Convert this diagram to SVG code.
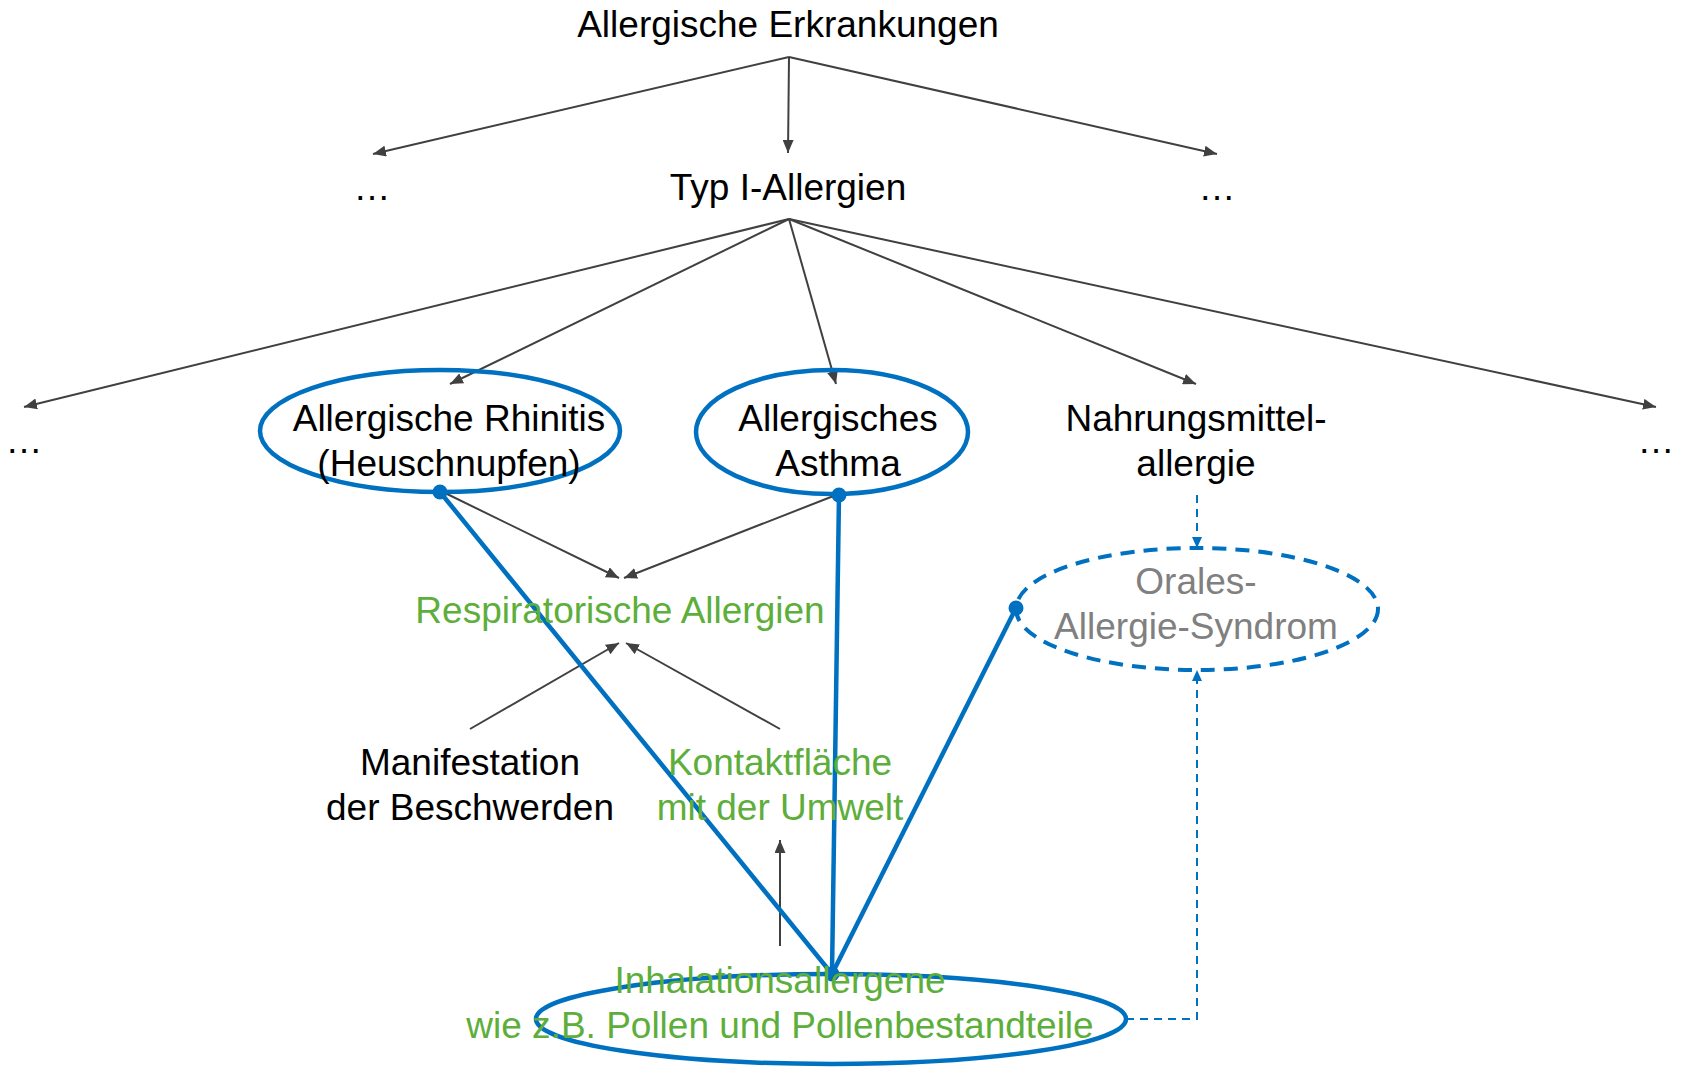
<svg xmlns="http://www.w3.org/2000/svg" width="1681" height="1067" viewBox="0 0 1681 1067">
<style>
text{font-family:"Liberation Sans",Arial,sans-serif;font-size:37px;text-anchor:middle;fill:#000}
.g{fill:#5DAE3A}
.gr{fill:#808080}
.c{stroke:#404040;stroke-width:2;fill:none;marker-end:url(#ah)}
.b{stroke:#0070C0;stroke-width:4.5;fill:none}
.bd{stroke:#0070C0;stroke-width:2;fill:none;stroke-dasharray:8 6}
.dot{fill:#0070C0}
</style>
<defs>
<marker id="ah" viewBox="0 0 13 11" refX="13" refY="5.5" markerWidth="13" markerHeight="11" markerUnits="userSpaceOnUse" orient="auto"><path d="M0,0 L13,5.5 L0,11 z" fill="#404040"/></marker>
<marker id="bh" viewBox="0 0 11 10" refX="11" refY="5" markerWidth="11" markerHeight="10" markerUnits="userSpaceOnUse" orient="auto"><path d="M0,0 L11,5 L0,10 z" fill="#0070C0"/></marker>
</defs>
<g id="connectors">
<line class="c" x1="789" y1="57" x2="373" y2="154"/>
<line class="c" x1="789" y1="57" x2="788" y2="153"/>
<line class="c" x1="789" y1="57" x2="1217" y2="154"/>
<line class="c" x1="789" y1="219" x2="24" y2="407"/>
<line class="c" x1="789" y1="219" x2="450" y2="384"/>
<line class="c" x1="789" y1="219" x2="836" y2="384"/>
<line class="c" x1="789" y1="219" x2="1196" y2="384"/>
<line class="c" x1="789" y1="219" x2="1656" y2="407"/>
<line class="c" x1="443" y1="492" x2="619" y2="578"/>
<line class="c" x1="836" y1="495" x2="624" y2="578"/>
<line class="c" x1="470" y1="729" x2="619" y2="643"/>
<line class="c" x1="780" y1="729" x2="626" y2="643"/>
<line class="c" x1="780" y1="946" x2="780" y2="840"/>
<line class="bd" x1="1197" y1="495" x2="1197" y2="548" marker-end="url(#bh)"/>
<polyline class="bd" points="1126,1019 1197,1019 1197,670" marker-end="url(#bh)"/>
<line class="b" x1="440" y1="492" x2="832" y2="974"/>
<line class="b" x1="839" y1="495" x2="832" y2="974"/>
<line class="b" x1="1016" y1="608" x2="832" y2="974"/>
<circle class="dot" cx="440" cy="492" r="7.5"/>
<circle class="dot" cx="839" cy="495" r="7.5"/>
<circle class="dot" cx="1016" cy="608" r="7.5"/>
<circle class="dot" cx="832" cy="974" r="7.5"/>
</g>
<g id="n-root"><text x="788" y="37">Allergische Erkrankungen</text></g>
<g id="n-dots1"><text x="372" y="200">…</text></g>
<g id="n-typ1"><text x="788" y="200">Typ I-Allergien</text></g>
<g id="n-dots2"><text x="1217" y="200">…</text></g>
<g id="n-dots3"><text x="24" y="453">…</text></g>
<g id="n-rhinitis">
<ellipse class="b" cx="440" cy="431" rx="180" ry="61"/>
<text x="449" y="431">Allergische Rhinitis</text>
<text x="449" y="476">(Heuschnupfen)</text>
</g>
<g id="n-asthma">
<ellipse class="b" cx="832" cy="432" rx="136" ry="62"/>
<text x="838" y="431">Allergisches</text>
<text x="838" y="476">Asthma</text>
</g>
<g id="n-nahrung">
<text x="1196" y="431">Nahrungsmittel-</text>
<text x="1196" y="476">allergie</text>
</g>
<g id="n-dots4"><text x="1656" y="453">…</text></g>
<g id="n-resp"><text class="g" x="620" y="623">Respiratorische Allergien</text></g>
<g id="n-orales">
<ellipse cx="1197" cy="609" rx="181" ry="61" fill="none" stroke="#0070C0" stroke-width="4" stroke-dasharray="14 9"/>
<text class="gr" x="1196" y="594">Orales-</text>
<text class="gr" x="1196" y="639">Allergie-Syndrom</text>
</g>
<g id="n-manif">
<text x="470" y="775">Manifestation</text>
<text x="470" y="820">der Beschwerden</text>
</g>
<g id="n-kontakt">
<text class="g" x="780" y="775">Kontaktfläche</text>
<text class="g" x="780" y="820">mit der Umwelt</text>
</g>
<g id="n-inhal">
<ellipse class="b" cx="831" cy="1019" rx="295" ry="45"/>
<text class="g" x="780" y="993">Inhalationsallergene</text>
<text class="g" x="780" y="1038">wie z.B. Pollen und Pollenbestandteile</text>
</g>
</svg>
